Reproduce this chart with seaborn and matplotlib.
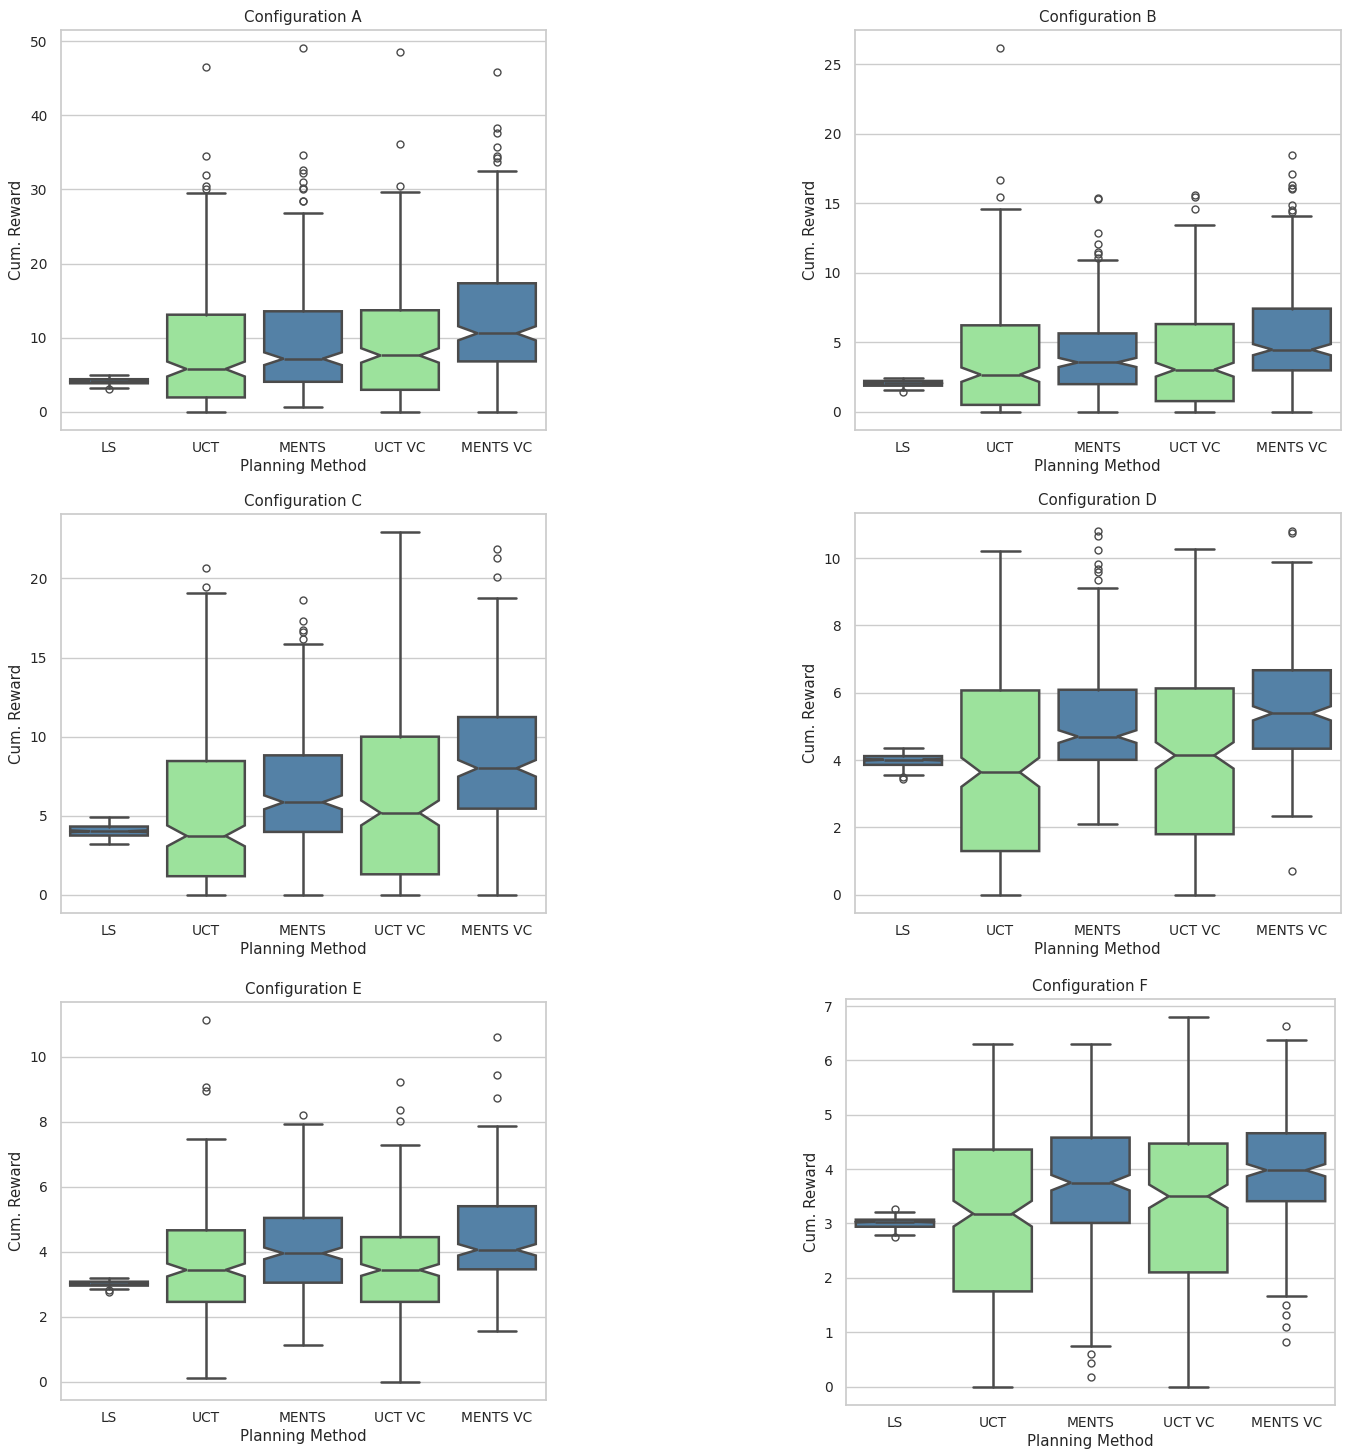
import colorsys

import matplotlib
matplotlib.use("Agg")
import matplotlib.pyplot as plt
import numpy as np
import seaborn as sns

methods = ["LS", "UCT", "MENTS", "UCT VC", "MENTS VC"]
method_colors = ["steelblue", "lightgreen", "steelblue", "lightgreen", "steelblue"]
n_episodes = 300  # episodes per method, sets the notch width

# Configuration A
a_q1 = [3.85, 1.94, 4.05, 2.97, 6.80]
a_med = [4.10, 5.77, 7.16, 7.60, 10.59]
a_q3 = [4.40, 13.10, 13.56, 13.70, 17.34]
a_lo = [3.20, 0.00, 0.63, 0.00, 0.00]
a_hi = [4.90, 29.55, 26.85, 29.70, 32.50]
a_out = [[3.10],
         [46.5, 34.5, 32.0, 30.4, 30.1],
         [49.05, 34.7, 32.6, 32.2, 31.0, 30.2, 30.0, 28.5, 28.4],
         [48.5, 36.1, 30.5],
         [45.9, 38.3, 37.6, 35.7, 34.5, 34.2, 33.7]]

# Configuration B
b_q1 = [1.88, 0.50, 1.99, 0.77, 2.98]
b_med = [2.05, 2.67, 3.55, 3.03, 4.47]
b_q3 = [2.22, 6.22, 5.64, 6.31, 7.42]
b_lo = [1.56, 0.00, 0.00, 0.00, 0.00]
b_hi = [2.40, 14.62, 10.90, 13.47, 14.07]
b_out = [[1.46],
         [26.15, 16.7, 15.46],
         [15.41, 15.34, 12.85, 12.08, 11.5, 11.38, 11.07],
         [15.56, 15.46, 14.55],
         [18.5, 17.07, 16.3, 16.1, 16.0, 14.9, 14.5, 14.36]]

# Configuration C
c_q1 = [3.75, 1.18, 3.98, 1.30, 5.45]
c_med = [4.02, 3.73, 5.85, 5.18, 8.00]
c_q3 = [4.32, 8.46, 8.82, 10.00, 11.24]
c_lo = [3.22, 0.00, 0.00, 0.00, 0.00]
c_hi = [4.90, 19.10, 15.87, 22.93, 18.74]
c_out = [[],
         [20.65, 19.47],
         [18.67, 17.33, 16.74, 16.6, 16.19],
         [],
         [21.87, 21.28, 20.08]]

# Configuration D
d_q1 = [3.86, 1.30, 4.01, 1.80, 4.34]
d_med = [4.01, 3.64, 4.70, 4.14, 5.39]
d_q3 = [4.12, 6.07, 6.09, 6.13, 6.67]
d_lo = [3.56, 0.00, 2.11, 0.00, 2.33]
d_hi = [4.36, 10.21, 9.12, 10.27, 9.89]
d_out = [[3.49, 3.43],
         [],
         [10.8, 10.65, 10.24, 9.84, 9.69, 9.59, 9.35],
         [],
         [10.8, 10.74, 0.70]]

# Configuration E
e_q1 = [2.96, 2.46, 3.05, 2.46, 3.46]
e_med = [3.02, 3.44, 3.95, 3.44, 4.06]
e_q3 = [3.08, 4.66, 5.04, 4.45, 5.40]
e_lo = [2.86, 0.11, 1.13, 0.00, 1.56]
e_hi = [3.18, 7.46, 7.92, 7.29, 7.87]
e_out = [[2.82, 2.76],
         [11.12, 9.05, 8.93],
         [8.21],
         [9.22, 8.36, 8.03],
         [10.6, 9.43, 8.73]]

# Configuration F
f_q1 = [2.94, 1.75, 3.01, 2.10, 3.41]
f_med = [3.03, 3.18, 3.75, 3.50, 3.98]
f_q3 = [3.07, 4.36, 4.58, 4.47, 4.66]
f_lo = [2.79, 0.00, 0.74, 0.00, 1.66]
f_hi = [3.21, 6.31, 6.31, 6.79, 6.38]
f_out = [[3.27, 2.76],
         [],
         [0.60, 0.44, 0.17],
         [],
         [6.63, 1.50, 1.31, 1.09, 0.82]]

panels = [
    ("Configuration A", a_q1, a_med, a_q3, a_lo, a_hi, a_out),
    ("Configuration B", b_q1, b_med, b_q3, b_lo, b_hi, b_out),
    ("Configuration C", c_q1, c_med, c_q3, c_lo, c_hi, c_out),
    ("Configuration D", d_q1, d_med, d_q3, d_lo, d_hi, d_out),
    ("Configuration E", e_q1, e_med, e_q3, e_lo, e_hi, e_out),
    ("Configuration F", f_q1, f_med, f_q3, f_lo, f_hi, f_out),
]

# axes frames in figure pixels: left, top, right, bottom
frames = [
    (60.5, 30, 545.5, 430),
    (854.5, 30, 1340.5, 430),
    (60.5, 514, 545.5, 913),
    (854.5, 513, 1340.5, 913),
    (60.5, 1002, 545.5, 1400),
    (846, 999, 1335, 1405),
]

sns.set_theme(style="whitegrid", font_scale=0.9)

W, H, DPI = 1346, 1456, 100
fig = plt.figure(figsize=(W / DPI, H / DPI), dpi=DPI)

fills = [sns.desaturate(c, 0.75) for c in method_colors]
darkest = min(colorsys.rgb_to_hls(*c)[1] for c in fills)
edge = (darkest * 0.6,) * 3
lw = 1.8

for (title, q1, med, q3, lo, hi, out), (l, t, r, b) in zip(panels, frames):
    ax = fig.add_axes([l / W, 1 - b / H, (r - l) / W, (b - t) / H])
    stats = []
    for i, name in enumerate(methods):
        half = 1.57 * (q3[i] - q1[i]) / np.sqrt(n_episodes)
        stats.append(dict(label=name, q1=q1[i], med=med[i], q3=q3[i],
                          whislo=lo[i], whishi=hi[i], fliers=out[i],
                          cilo=med[i] - half, cihi=med[i] + half))
    parts = ax.bxp(
        stats, positions=range(len(methods)), widths=0.8,
        shownotches=True, patch_artist=True, showfliers=True,
        boxprops=dict(linewidth=lw, edgecolor=edge),
        medianprops=dict(color=edge, linewidth=lw),
        whiskerprops=dict(color=edge, linewidth=lw),
        capprops=dict(color=edge, linewidth=lw),
        flierprops=dict(marker="o", markerfacecolor="none",
                        markeredgecolor=edge, markersize=5,
                        markeredgewidth=1.0),
    )
    for patch, c in zip(parts["boxes"], fills):
        patch.set_facecolor(c)
    ax.set_xlim(-0.5, len(methods) - 0.5)
    ax.set_xticks(range(len(methods)))
    ax.set_xticklabels(methods)
    ax.tick_params(axis="x", pad=2)
    ax.xaxis.grid(False)
    ax.set_xlabel("Planning Method", labelpad=3)
    ax.set_ylabel("Cum. Reward")
    ax.set_title(title)

fig.savefig("out.png", dpi=DPI)
